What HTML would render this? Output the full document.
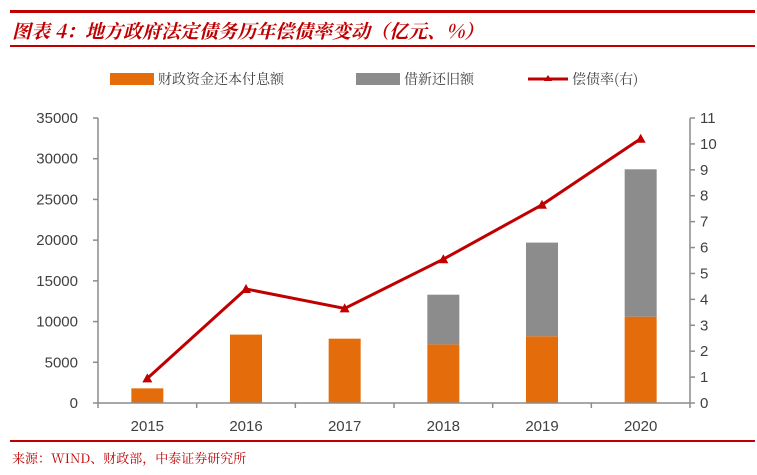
<!DOCTYPE html>
<html><head><meta charset="utf-8"><style>
body{margin:0;width:757px;height:470px;background:#fff;overflow:hidden;font-family:"Liberation Sans","Noto Sans CJK SC",sans-serif}
</style></head><body>
<svg width="757" height="470" xmlns="http://www.w3.org/2000/svg">
<rect x="10" y="10" width="745" height="3" fill="#c00000"/>
<text x="12" y="38" font-size="19" font-weight="bold" font-style="italic" fill="#c00000" font-family="'Noto Serif CJK SC','Liberation Serif',serif">图表 4：地方政府法定债务历年偿债率变动（亿元、%）</text>
<rect x="10" y="45" width="745" height="2" fill="#c00000"/>
<g font-size="14" fill="#404040" font-family="'Noto Serif CJK SC','Liberation Serif',serif">
<rect x="110" y="73" width="44" height="12" fill="#e46c0a"/>
<text x="158" y="84">财政资金还本付息额</text>
<rect x="356" y="73" width="44" height="12" fill="#8c8c8c"/>
<text x="404" y="84">借新还旧额</text>
<line x1="528" y1="79" x2="568" y2="79" stroke="#c00000" stroke-width="3"/>
<path d="M548 75 L552 81 L544 81Z" fill="#c00000"/>
<text x="572" y="84">偿债率(右)</text>
</g>
<g id="plot"></g>
<rect x="10" y="440" width="745" height="2" fill="#c00000"/>
<text x="12" y="463" font-size="13" fill="#c00000" font-family="'Noto Serif CJK SC','Liberation Serif',serif">来源：WIND、财政部，中泰证券研究所</text>
</svg>
<script>
const categories=["2015","2016","2017","2018","2019","2020"];
const fiscalValues=[1800,8400,7900,7200,8200,10600];
const refinanceValues=[0,0,0,6100,11500,18100];
const rateValues=[0.95,4.4,3.65,5.55,7.65,10.2];
const leftTicks=[0,5000,10000,15000,20000,25000,30000,35000];
const rightTicks=[0,1,2,3,4,5,6,7,8,9,10,11];
const NS="http://www.w3.org/2000/svg";
const g=document.getElementById('plot');
const X0=98,X1=690,Y0=403,Y1=118;
const band=(X1-X0)/categories.length;
const xc=i=>X0+band*(i+0.5);
const yL=v=>Y0-(v/35000)*(Y0-Y1);
const yR=v=>Y0-(v/11)*(Y0-Y1);
function mk(tag,attrs){const e=document.createElementNS(NS,tag);for(const k in attrs)e.setAttribute(k,attrs[k]);g.appendChild(e);return e;}
// bars
categories.forEach((c,i)=>{
  const w=32;
  let r=mk('rect',{x:xc(i)-w/2,y:yL(fiscalValues[i]),width:w,height:Y0-yL(fiscalValues[i]),fill:'#e46c0a'});
  
  
  if(refinanceValues[i]>0){
    const top=fiscalValues[i]+refinanceValues[i];
    let r2=mk('rect',{x:xc(i)-w/2,y:yL(top),width:w,height:yL(fiscalValues[i])-yL(top),fill:'#8c8c8c'});
    
    
  }
  let t=mk('text',{x:xc(i),y:431,'font-size':15,fill:'#404040','text-anchor':'middle'});
  t.textContent=c;
  
  
});
// axes
let ax=mk('path',{d:`M${X0} ${Y1}V${Y0}H${X1}V${Y1}`,fill:'none',stroke:'#8c8c8c','stroke-width':1.5});


for(let i=0;i<=categories.length;i++){
  let l=mk('line',{x1:X0+band*i,x2:X0+band*i,y1:Y0,y2:Y0+5,stroke:'#8c8c8c','stroke-width':1.5});
  
  
}
leftTicks.forEach(v=>{
  let l=mk('line',{x1:X0-5,x2:X0,y1:yL(v),y2:yL(v),stroke:'#8c8c8c','stroke-width':1.5});
  
  
  let t=mk('text',{x:78,y:yL(v)+5,'font-size':15,fill:'#404040','text-anchor':'end'});
  t.textContent=v;
  
  
});
rightTicks.forEach(v=>{
  let l=mk('line',{x1:X1,x2:X1+5,y1:yR(v),y2:yR(v),stroke:'#8c8c8c','stroke-width':1.5});
  
  
  let t=mk('text',{x:700,y:yR(v)+5,'font-size':15,fill:'#404040'});
  t.textContent=v;
  
  
});
// line
let line=mk('polyline',{points:rateValues.map((v,i)=>xc(i)+','+yR(v)).join(' '),fill:'none',stroke:'#c00000','stroke-width':3});


rateValues.forEach((v,i)=>{
  const x=xc(i),y=yR(v);
  let p=mk('path',{d:`M${x} ${y-5}L${x+5} ${y+4}L${x-5} ${y+4}Z`,fill:'#c00000'});
  
  
});
</script>
</body></html>
